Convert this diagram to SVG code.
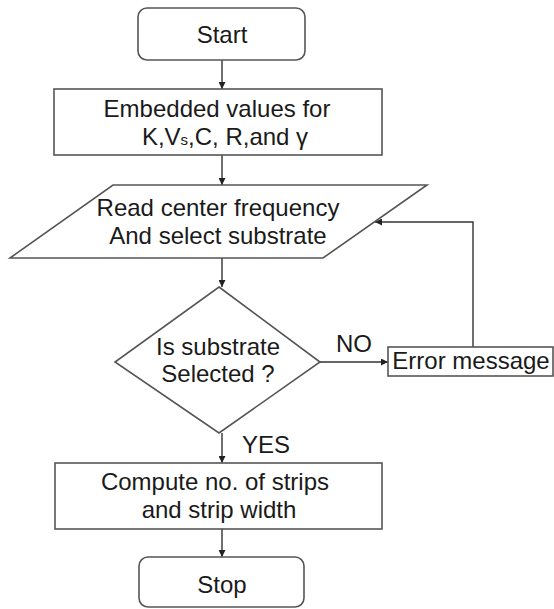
<svg xmlns="http://www.w3.org/2000/svg" width="554" height="609" viewBox="0 0 554 609">
  <defs>
    <style>
      .shape { fill: #ffffff; stroke: #555555; stroke-width: 1.6; }
      .lbl { font-family: "Liberation Sans", Arial, sans-serif; font-size: 24px; fill: #1a1a1a; text-anchor: middle; }
      .conn { fill: none; stroke: #333333; stroke-width: 1.4; }
    </style>
    <marker id="arrow" viewBox="0 0 10 10" refX="10" refY="5" markerWidth="7" markerHeight="7" markerUnits="userSpaceOnUse" orient="auto">
      <path d="M0,0 L10,5 L0,10 Z" fill="#222222"/>
    </marker>
  </defs>
  <rect width="554" height="609" fill="#ffffff"/>

  <g id="connectors">
    <line class="conn" x1="222" y1="60" x2="222" y2="89" marker-end="url(#arrow)"/>
    <line class="conn" x1="222" y1="155" x2="222" y2="185" marker-end="url(#arrow)"/>
    <line class="conn" x1="222" y1="258" x2="222" y2="287" marker-end="url(#arrow)"/>
    <line class="conn" x1="320" y1="362" x2="388" y2="362" marker-end="url(#arrow)"/>
    <polyline class="conn" points="473,347 473,222 375,222" marker-end="url(#arrow)"/>
    <line class="conn" x1="222" y1="433" x2="222" y2="463" marker-end="url(#arrow)"/>
    <line class="conn" x1="222" y1="529" x2="222" y2="557" marker-end="url(#arrow)"/>
    <text class="lbl" x="354" y="352">NO</text>
    <text class="lbl" x="266" y="453">YES</text>
  </g>

  <g id="start">
    <rect class="shape" x="138" y="8" width="167" height="52" rx="9" ry="9"/>
    <text class="lbl" x="222" y="43">Start</text>
  </g>

  <g id="embedded">
    <rect class="shape" x="54" y="89" width="328" height="66"/>
    <text class="lbl" x="217" y="117">Embedded values for</text>
    <text class="lbl" x="225" y="145">K,V<tspan font-size="15">s</tspan>,C, R,and γ</text>
  </g>

  <g id="read">
    <polygon class="shape" points="113,185 427,185 323,258 10,258"/>
    <text class="lbl" x="218" y="216">Read center frequency</text>
    <text class="lbl" x="218" y="244">And select substrate</text>
  </g>

  <g id="decision">
    <polygon class="shape" points="219,287 320,362 219,433 115,362"/>
    <text class="lbl" x="218" y="355">Is substrate</text>
    <text class="lbl" x="218" y="382">Selected ?</text>
  </g>

  <g id="error">
    <rect class="shape" x="388" y="347" width="165" height="29"/>
    <text class="lbl" x="471" y="369">Error message</text>
  </g>

  <g id="compute">
    <rect class="shape" x="55" y="463" width="327" height="66"/>
    <text class="lbl" x="215" y="490">Compute no. of strips</text>
    <text class="lbl" x="219" y="518">and strip width</text>
  </g>

  <g id="stop">
    <rect class="shape" x="139" y="557" width="165" height="50" rx="9" ry="9"/>
    <text class="lbl" x="222" y="593">Stop</text>
  </g>
</svg>
